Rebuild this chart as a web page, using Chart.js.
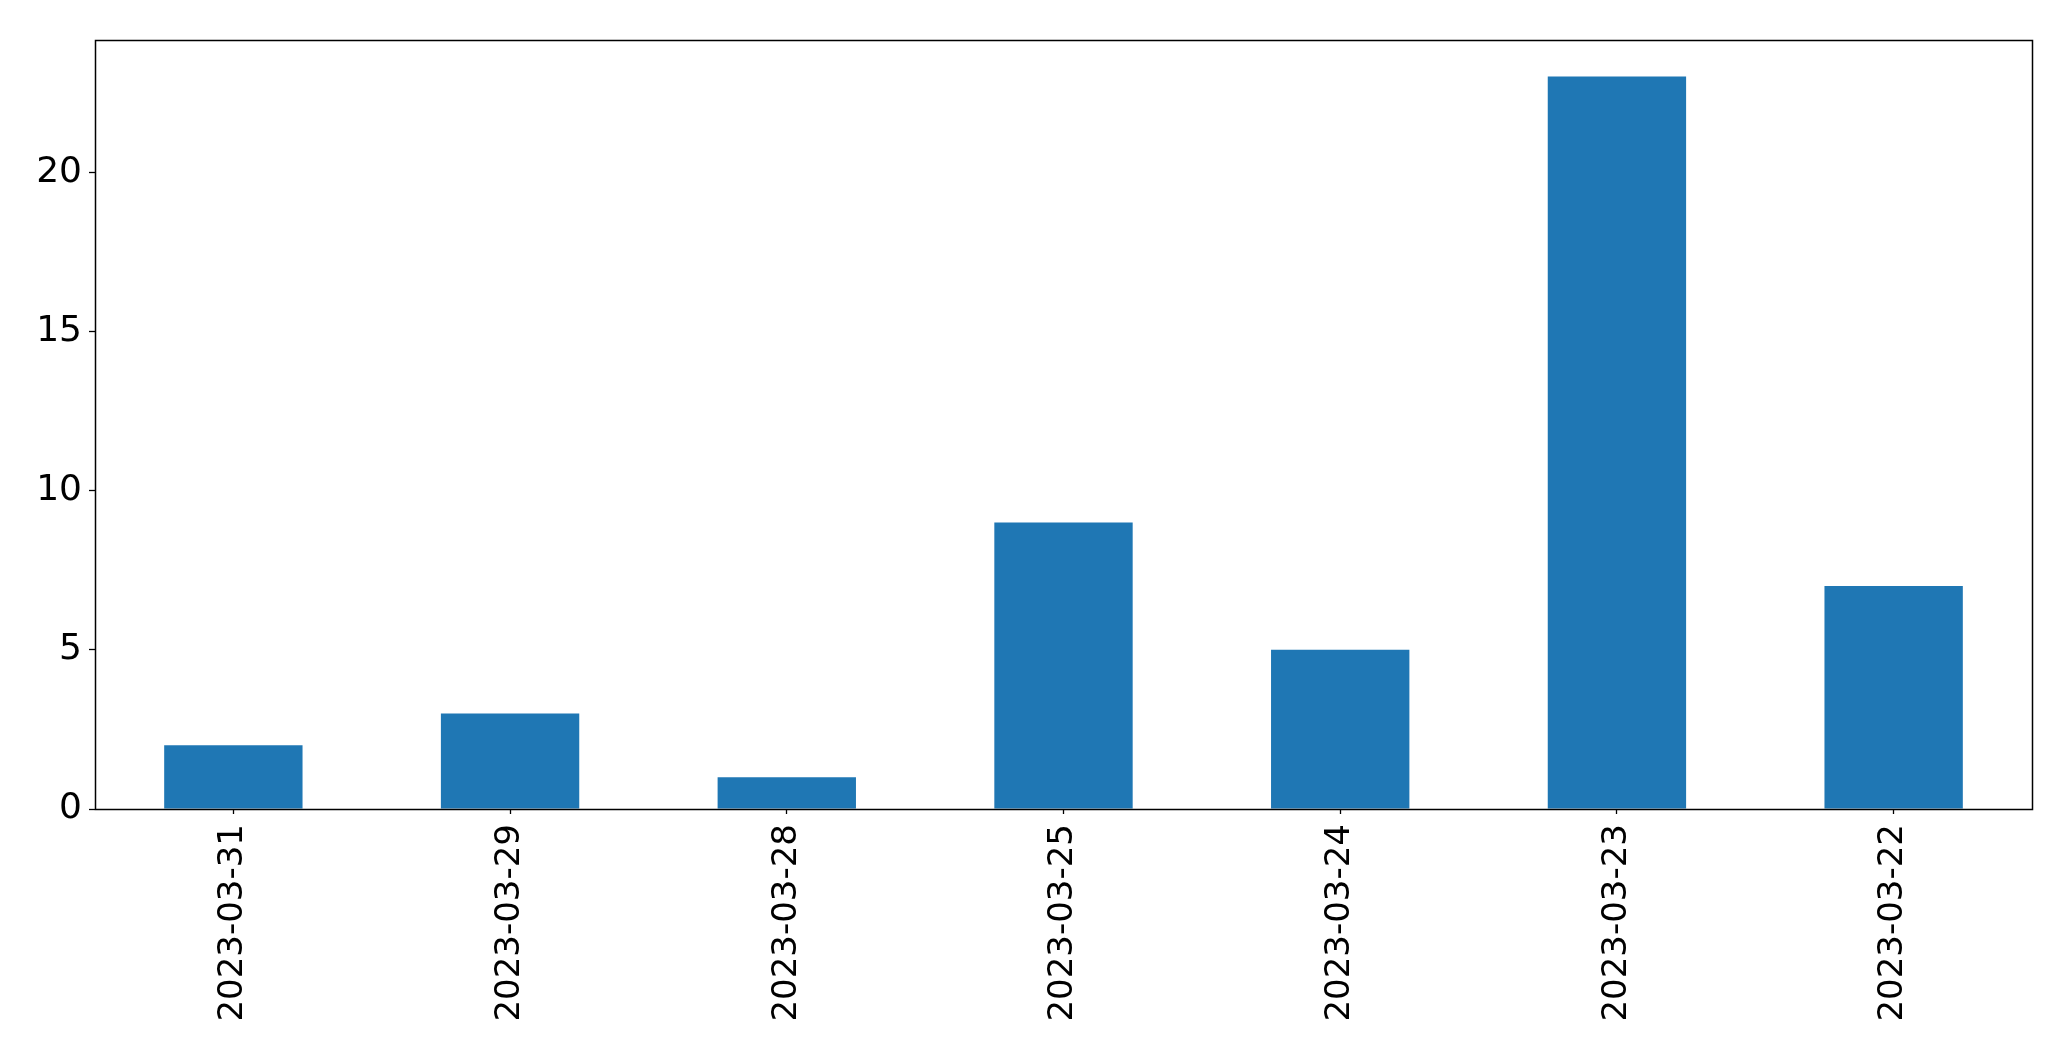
<!DOCTYPE html>
<html>
<head>
<meta charset="utf-8">
<script src="https://cdn.jsdelivr.net/npm/chart.js@4"></script>
<style>
  body { margin: 0; background: #fff; }
  canvas { display: block; }
</style>
</head>
<body>
<canvas id="chart" width="2071" height="1061"></canvas>
<script>
const kategorien = ["2023-03-31", "2023-03-29", "2023-03-28", "2023-03-25", "2023-03-24", "2023-03-23", "2023-03-22"];
const werte = [2, 3, 1, 9, 5, 23, 7];
const yTicks = [0, 5, 10, 15, 20];

// Rahmen um die Plotfläche
const rahmen = {
  id: "rahmen",
  afterDraw(chart) {
    const a = chart.chartArea;
    const ctx = chart.ctx;
    ctx.save();
    ctx.strokeStyle = "#000";
    ctx.lineWidth = 1.5;
    ctx.strokeRect(Math.round(a.left) + 0.5, Math.round(a.top) + 0.5,
      Math.round(a.right - a.left), Math.round(a.bottom - a.top));
    ctx.restore();
  }
};

Chart.defaults.font.family = "'DejaVu Sans', sans-serif";
Chart.defaults.color = "#000";

new Chart(document.getElementById("chart"), {
  type: "bar",
  data: {
    labels: kategorien,
    datasets: [{
      data: werte,
      backgroundColor: "#1f77b4",
      categoryPercentage: 1,
      barPercentage: 0.5
    }]
  },
  options: {
    responsive: false,
    animation: false,
    layout: { padding: { top: 40, right: 39, left: 0, bottom: 0 } },
    plugins: { legend: { display: false }, tooltip: { enabled: false } },
    scales: {
      x: {
        offset: true,
        grid: { offset: false, drawOnChartArea: false, tickLength: 5, tickColor: "#000", tickWidth: 1.3 },
        border: { display: false },
        ticks: { font: { size: 34 }, minRotation: 90, maxRotation: 90, padding: 10 },
        afterFit(scale) { scale.height = 252; }
      },
      y: {
        min: 0,
        max: 24.15,
        grid: { drawOnChartArea: false, tickLength: 6, tickColor: "#000", tickWidth: 1.3 },
        border: { display: false },
        ticks: { font: { size: 36 }, padding: 7 },
        afterBuildTicks(scale) { scale.ticks = yTicks.map(v => ({ value: v })); },
        afterFit(scale) { scale.width = 95; }
      }
    }
  },
  plugins: [rahmen]
});
</script>
</body>
</html>
